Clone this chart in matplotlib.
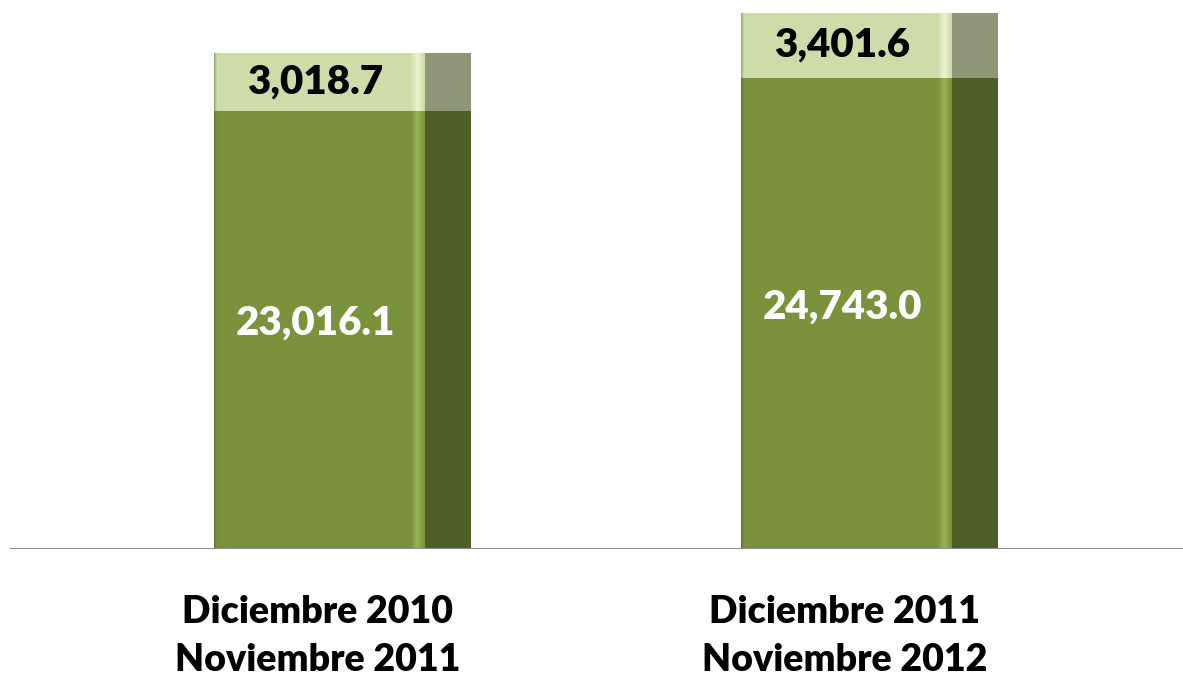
import numpy as np
import matplotlib
matplotlib.use("Agg")
import matplotlib.pyplot as plt
import matplotlib.transforms as mtransforms

# data
periods = ["Diciembre 2010\nNoviembre 2011", "Diciembre 2011\nNoviembre 2012"]
base_values = [23016.1, 24743.0]
top_values = [3018.7, 3401.6]

FRONT = "#7b923c"
SIDE = "#4d5e28"
FRONT_TOP = "#cedcaa"
SIDE_TOP = "#8f9778"
STRIPE = "#9ab75a"
STRIPE_TOP = "#eef5d4"

plt.rcParams['font.family'] = ['Lato', 'DejaVu Sans']

fig = plt.figure(figsize=(11.83, 6.78), dpi=100)
ax = fig.add_axes([10/1183, 129/678, 1 - 10/1183, 549/678])

x = np.arange(len(periods))
front_w = 211/527
side_w = 46/527
front_left = x - 128.5/527
side_left = front_left + front_w

base = np.array(base_values)
top = np.array(top_values)

ax.bar(front_left, base, width=front_w, align="edge", color=FRONT, linewidth=0)
ax.bar(front_left, top, bottom=base, width=front_w, align="edge", color=FRONT_TOP, linewidth=0)
ax.bar(side_left, base, width=side_w, align="edge", color=SIDE, linewidth=0)
ax.bar(side_left, top, bottom=base, width=side_w, align="edge", color=SIDE_TOP, linewidth=0)

# soft highlight near the front edge, built from thin slices
px = 1/527
for k, a in enumerate([0.15, 0.35, 0.6, 0.8, 0.8, 0.6, 0.35, 0.15]):
    sl = side_left - 14*px + k*1.6*px
    ax.bar(sl, base, width=1.6*px, align="edge", color=STRIPE, linewidth=0, alpha=a)
    ax.bar(sl, top, bottom=base, width=1.6*px, align="edge", color=STRIPE_TOP, linewidth=0, alpha=a)
# slight shade on the left edge of the front
for k, a in enumerate([0.35, 0.2, 0.08]):
    ax.bar(front_left + k*px, base + top, width=px, align="edge", color="#3d4a1e", linewidth=0, alpha=a)

for i in range(len(periods)):
    cx = front_left[i] + front_w / 2 - 4/527
    ax.text(cx, base[i] / 2 + 350, f"{base[i]:,.1f}", ha="center", va="center",
            color="white", fontsize=29, fontweight="heavy")
    ax.text(cx, base[i] + top[i] / 2, f"{top[i]:,.1f}", ha="center", va="center",
            color="black", fontsize=29, fontweight="heavy")

ax.axhline(0, color="#8c8c8c", linewidth=2.2)

trans = mtransforms.blended_transform_factory(ax.transData, fig.transFigure)
for i, lab in enumerate(periods):
    ax.text(front_left[i] + front_w / 2 - 2/527, 1 - 636/678, lab, transform=trans,
            ha="center", va="center", fontsize=27, fontweight="heavy",
            color="black", linespacing=1.5)

ax.set_xlim(-332.5/527, 1 + (1183 - 869.5)/527)
ax.set_ylim(0, 549 / (496 / 26034.8))
ax.axis("off")

fig.savefig("out.png", dpi=100)
